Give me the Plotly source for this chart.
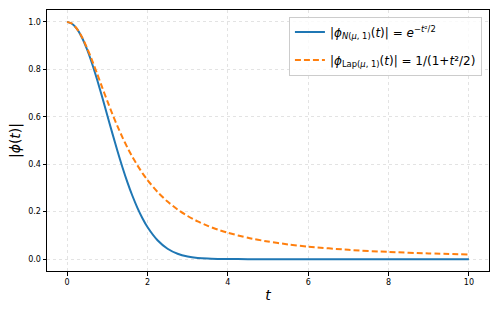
import plotly.graph_objects as go

# sample points (t)
t_vals = [0, 0.125, 0.25, 0.375, 0.5, 0.625, 0.75, 0.875, 1.0, 1.125, 1.25, 1.375, 1.5,
          1.625, 1.75, 1.875, 2.0, 2.25, 2.5, 2.75, 3.0,
          3.25, 3.5, 3.75, 4.0, 4.5, 5.0, 5.5, 6.0, 7.0, 8.0, 9.0, 10.0]
normal_vals = [1.0, 0.9922, 0.9692, 0.9321, 0.8825, 0.8226, 0.7548, 0.6819, 0.6065,
               0.5311, 0.4578, 0.3886, 0.3247, 0.2671, 0.2163, 0.1724, 0.1353,
               0.0796, 0.0439, 0.0228, 0.0111, 0.0051, 0.0022, 0.0009, 0.0003, 0.0,
               0.0, 0.0, 0.0, 0.0, 0.0, 0.0, 0.0]
laplace_vals = [1.0, 0.9923, 0.9697, 0.9343, 0.8889, 0.8366, 0.7805, 0.7232, 0.6667,
                0.6124, 0.5614, 0.5141, 0.4706, 0.4310, 0.3951, 0.3626, 0.3333,
                0.2832, 0.2424, 0.2092, 0.1818, 0.1592, 0.1404, 0.1245, 0.1111, 0.0899,
                0.0741, 0.0620, 0.0526, 0.0392, 0.0303, 0.0241, 0.0196]
x_ticks = [0, 2, 4, 6, 8, 10]
y_ticks = [0.0, 0.2, 0.4, 0.6, 0.8, 1.0]
y_tick_text = ["0.0", "0.2", "0.4", "0.6", "0.8", "1.0"]

name_normal = "|<i>ϕ</i><sub><i>N</i>(<i>μ</i>, 1)</sub>(<i>t</i>)| = <i>e</i><sup>−<i>t</i>²/2</sup>"
name_laplace = "|<i>ϕ</i><sub>Lap(<i>μ</i>, 1)</sub>(<i>t</i>)| = 1/(1+<i>t</i>²/2)"

fig = go.Figure()
fig.add_trace(go.Scatter(x=t_vals, y=normal_vals, mode="lines", name=name_normal,
                         legendgroup="a",
                         line=dict(color="#1f77b4", width=2, shape="spline", smoothing=0.6)))
fig.add_trace(go.Scatter(x=t_vals, y=laplace_vals, mode="lines", name=name_laplace,
                         legendgroup="b",
                         line=dict(color="#ff7f0e", width=2, dash="6px,3px",
                                   shape="spline", smoothing=0.6)))

axis_common = dict(showline=True, linecolor="black", linewidth=1, mirror=True,
                   ticks="outside", ticklen=3.5, tickcolor="black", tickwidth=0.8,
                   showgrid=True, gridcolor="#e3e3e3", griddash="dot", gridwidth=0.7,
                   zeroline=False, tickfont=dict(size=8, color="black"),
                   automargin=False)

fig.update_layout(
    width=498, height=312,
    margin=dict(l=47, r=9, t=10, b=41),
    paper_bgcolor="white", plot_bgcolor="white",
    font=dict(family="DejaVu Sans", color="black"),
    xaxis=dict(range=[-0.5, 10.5], tickvals=x_ticks,
               title=dict(text="<i>t</i>", font=dict(size=14), standoff=4), **axis_common),
    yaxis=dict(range=[-0.05, 1.05], tickvals=y_ticks, ticktext=y_tick_text,
               title=dict(text="|<i>ϕ</i>(<i>t</i>)|", font=dict(size=14), standoff=4),
               **axis_common),
    legend=dict(x=0.984, y=0.975, xanchor="right", yanchor="top",
                bgcolor="rgba(255,255,255,0.8)", bordercolor="#cccccc", borderwidth=1,
                font=dict(size=12), tracegroupgap=9),
    showlegend=True,
)

fig.write_html("out.html", config={"displayModeBar": False},
               post_script="document.body.style.margin='0';")
